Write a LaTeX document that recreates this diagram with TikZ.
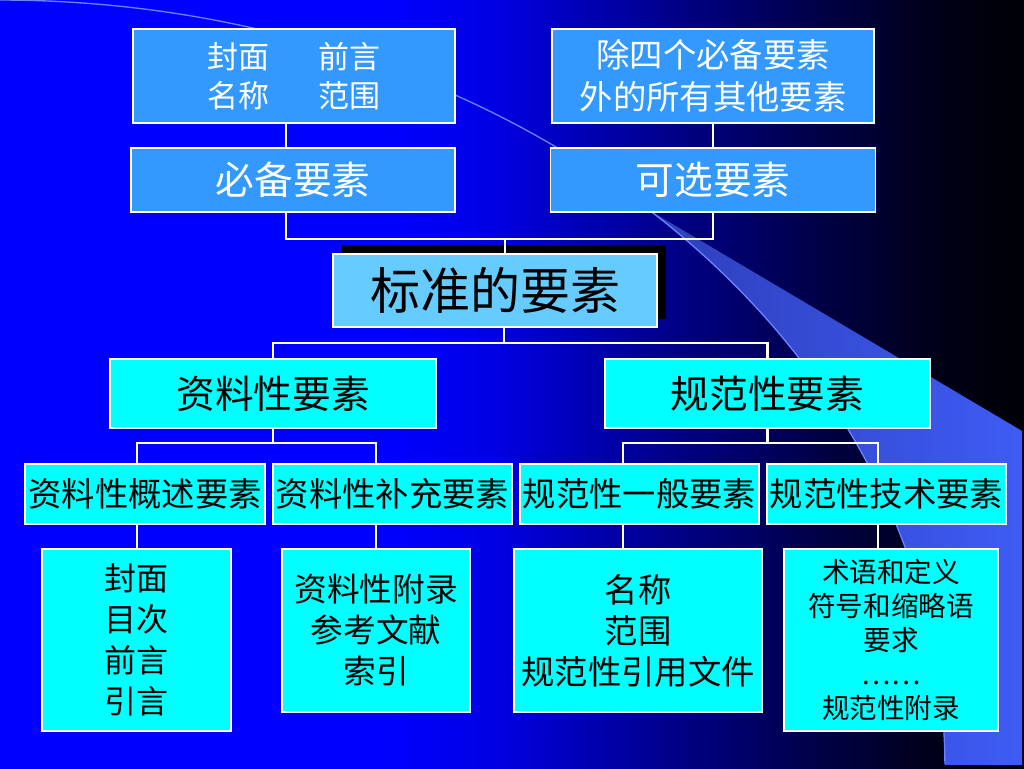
\documentclass[tikz,border=0pt]{standalone}
\usepackage{fontspec}
\setmainfont{Noto Sans CJK SC}
\definecolor{bgA}{RGB}{0,0,255}
\definecolor{bgB}{RGB}{0,0,228}
\definecolor{bgC}{RGB}{0,0,140}
\definecolor{bgD}{RGB}{0,0,70}
\definecolor{bgE}{RGB}{0,0,22}
\definecolor{bgF}{RGB}{0,0,6}
\definecolor{boxblue}{RGB}{51,153,255}
\definecolor{centerblue}{RGB}{102,204,255}
\definecolor{boxcyan}{RGB}{0,255,255}
\definecolor{wedgeDark}{RGB}{45,62,185}
\definecolor{wedgeLight}{RGB}{62,92,245}
\definecolor{arcline}{RGB}{105,130,255}
\pgfdeclarehorizontalshading{bgshade}{100bp}{color(0bp)=(bgA); color(25bp)=(bgA); color(44bp)=(bgA); color(49bp)=(bgB); color(57.5bp)=(bgC); color(65bp)=(bgD); color(71bp)=(bgE); color(75bp)=(bgF); color(100bp)=(bgF)}
\begin{document}
\begin{tikzpicture}[x=0.75pt,y=-0.75pt,
  conn/.style={draw=white,line width=1.9pt},
  bx/.style={draw=white,line width=1.3pt,inner sep=0pt,align=center,anchor=center},
  blu/.style={bx,fill=boxblue,text=white},
  ctr/.style={bx,fill=centerblue,text=black},
  cyn/.style={bx,fill=boxcyan,text=black}]
\useasboundingbox (0,0) rectangle (1024,768);
% background
\fill[shading=bgshade] (0,0) rectangle (1024,768);
% page-curl wedge
\fill[left color=wedgeDark,right color=wedgeLight] (1022,431) -- (1022,765) -- (945,765)
  -- plot[domain=0.3:46.5,samples=60] ({945*cos(\x)},{768-768*sin(\x)}) -- cycle;
\draw[arcline,line width=1pt] plot[domain=0.3:90,samples=120] ({945*cos(\x)},{768-768*sin(\x)});
% page number (mostly hidden behind the last box)
\node[text=white,font=\fontsize{9}{11}\selectfont,inner sep=0pt] (pg) at (922,728) {12};
% shadow of the centre box
\fill[black] (341,245) rectangle (666,319);
% boxes
\node[blu,minimum width=241.5pt,minimum height=70.5pt,font=\fontsize{23.25}{29.25}\selectfont] (tl) at (294,76) {封面\hspace{1.6em}前言\\名称\hspace{1.6em}范围};
\node[blu,minimum width=241.5pt,minimum height=70.5pt,font=\fontsize{25}{31.5}\selectfont] (tr) at (713,76) {除四个必备要素\\外的所有其他要素};
\node[blu,minimum width=243pt,minimum height=48pt,font=\fontsize{29}{34}\selectfont] (bb) at (293,180) {必备要素};
\node[blu,minimum width=243.75pt,minimum height=48pt,font=\fontsize{29}{34}\selectfont] (ob) at (713,180) {可选要素};
\node[ctr,minimum width=243pt,minimum height=54.75pt,font=\fontsize{37.5}{44}\selectfont] (cn) at (495,290.5) {标准的要素};
\node[cyn,minimum width=244.5pt,minimum height=51.75pt,font=\fontsize{29}{34}\selectfont] (zl) at (273,393.5) {资料性要素};
\node[cyn,minimum width=243.75pt,minimum height=51.75pt,font=\fontsize{29}{34}\selectfont] (gf) at (767.5,393.5) {规范性要素};
\node[cyn,minimum width=180pt,minimum height=45pt,font=\fontsize{25}{30}\selectfont] (z1) at (145,494) {资料性概述要素};
\node[cyn,minimum width=179.25pt,minimum height=45pt,font=\fontsize{25}{30}\selectfont] (z2) at (392.5,494) {资料性补充要素};
\node[cyn,minimum width=179.25pt,minimum height=45pt,font=\fontsize{25}{30}\selectfont] (g1) at (639.5,494) {规范性一般要素};
\node[cyn,minimum width=179.25pt,minimum height=45pt,font=\fontsize{25}{30}\selectfont] (g2) at (886.5,494) {规范性技术要素};
\node[cyn,minimum width=141.75pt,minimum height=136.5pt,font=\fontsize{24}{30.75}\selectfont] (L1) at (136.5,640) {封面\\目次\\前言\\引言};
\node[cyn,minimum width=141pt,minimum height=122.25pt,font=\fontsize{24.5}{30.75}\selectfont] (L2) at (376,630.5) {资料性附录\\参考文献\\索引};
\node[cyn,minimum width=186pt,minimum height=122.25pt,font=\fontsize{25}{30.75}\selectfont] (L3) at (638,630.5) {名称\\范围\\规范性引用文件};
\node[cyn,minimum width=160.5pt,minimum height=136.5pt,font=\fontsize{20.7}{25.5}\selectfont] (L4) at (891,640) {术语和定义\\符号和缩略语\\要求\\……\\规范性附录};
% connector coordinates
\coordinate (xa) at (286,0);
\coordinate (xb) at (713,0);
\coordinate (b1) at (505,239);
\coordinate (b2) at (504,343);
\coordinate (c1) at (137,443);
\coordinate (c2) at (376,443);
\coordinate (c3) at (623,443);
\coordinate (c4) at (878,443);
% connectors
\draw[conn] (tl.south -| xa) -- (bb.north -| xa);
\draw[conn] (tr.south -| xb) -- (ob.north -| xb);
\draw[conn] (bb.south -| xa) |- (b1) -| (ob.south -| xb);
\draw[conn] (b1) -- (cn.north -| b1);
\draw[conn] (cn.south -| b2) -- (b2);
\draw[conn] (zl.north) |- (b2) -| (gf.north);
\draw[conn] (zl.south) -- (zl.south |- c1);
\draw[conn] (z1.north -| c1) -- (c1) -- (c2) -- (z2.north -| c2);
\draw[conn] (gf.south) -- (gf.south |- c3);
\draw[conn] (g1.north -| c3) -- (c3) -- (c4) -- (g2.north -| c4);
\draw[conn] (z1.south -| c1) -- (L1.north -| c1);
\draw[conn] (z2.south -| c2) -- (L2.north -| c2);
\draw[conn] (g1.south -| c3) -- (L3.north -| c3);
\draw[conn] (g2.south -| c4) -- (L4.north -| c4);
\end{tikzpicture}
\end{document}
